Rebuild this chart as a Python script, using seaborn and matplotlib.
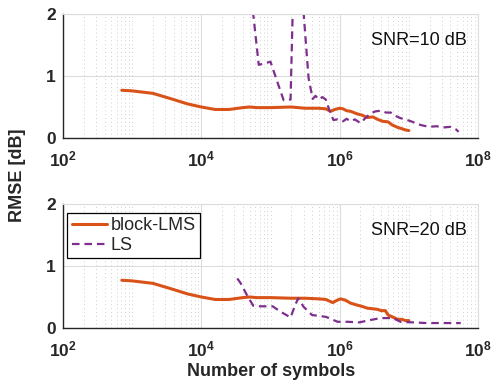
import numpy as np
import pandas as pd
import matplotlib
matplotlib.use("Agg")
import matplotlib.pyplot as plt
import seaborn as sns
from matplotlib.ticker import LogLocator, NullFormatter, FixedLocator

# ---- data: log10(number of symbols) and RMSE [dB] ----
lms_top_logn = [2.85, 3.0, 3.3, 3.6, 3.8, 4.0, 4.2, 4.4, 4.6, 4.7, 4.8, 5.0, 5.3,
                5.5, 5.7, 5.8, 5.87, 5.93, 6.0, 6.05, 6.1, 6.16, 6.25, 6.32, 6.4,
                6.48, 6.55, 6.62, 6.7, 6.76, 6.84, 6.9, 6.95, 7.0]
lms_top_rmse = [0.77, 0.76, 0.72, 0.62, 0.55, 0.50, 0.46, 0.46, 0.49, 0.50, 0.49, 0.49, 0.50,
                0.48, 0.48, 0.47, 0.43, 0.46, 0.48, 0.47, 0.44, 0.43, 0.39, 0.37, 0.33,
                0.34, 0.30, 0.27, 0.26, 0.21, 0.17, 0.15, 0.13, 0.12]

ls_top_logn = [4.68, 4.75, 4.83, 4.9, 5.0, 5.1, 5.19, 5.29, 5.32, 5.34,
               5.46, 5.48, 5.55, 5.61, 5.65, 5.7, 5.75, 5.8, 5.85, 5.91, 5.97, 6.05,
               6.1, 6.16, 6.22, 6.3, 6.38, 6.45, 6.52, 6.6, 6.67, 6.74, 6.8, 6.88,
               6.95, 7.03, 7.1, 7.17, 7.29, 7.4, 7.5, 7.6, 7.68, 7.72]
ls_top_rmse = [2.6, 2.0, 1.18, 1.2, 1.23, 0.9, 0.61, 0.62, 2.0, 2.6,
               2.6, 2.0, 0.97, 0.63, 0.68, 0.62, 0.66, 0.62, 0.45, 0.29, 0.30, 0.27,
               0.31, 0.27, 0.30, 0.24, 0.33, 0.40, 0.43, 0.44, 0.41, 0.41, 0.36, 0.32,
               0.30, 0.27, 0.24, 0.21, 0.18, 0.19, 0.17, 0.18, 0.14, 0.10]

lms_bot_logn = [2.85, 3.0, 3.3, 3.6, 3.8, 4.0, 4.2, 4.4, 4.6, 4.7, 4.8, 5.0, 5.3,
                5.5, 5.7, 5.8, 5.9, 5.95, 6.01, 6.08, 6.16, 6.25, 6.32, 6.4,
                6.48, 6.55, 6.6, 6.66, 6.7, 6.76, 6.84, 6.9, 6.95, 7.0]
lms_bot_rmse = [0.77, 0.76, 0.72, 0.62, 0.55, 0.50, 0.46, 0.46, 0.49, 0.50, 0.49, 0.49, 0.48,
                0.48, 0.47, 0.46, 0.41, 0.44, 0.47, 0.45, 0.40, 0.37, 0.35, 0.32,
                0.31, 0.30, 0.28, 0.28, 0.21, 0.18, 0.14, 0.14, 0.12, 0.12]

ls_bot_logn = [4.52, 4.57, 4.65, 4.75, 4.85, 5.03, 5.15, 5.29, 5.35, 5.4, 5.48, 5.6,
               5.8, 5.97, 6.12, 6.28, 6.45, 6.59, 6.77, 6.88, 7.07, 7.25, 7.5, 7.75]
ls_bot_rmse = [0.80, 0.72, 0.55, 0.36, 0.35, 0.35, 0.26, 0.17, 0.35, 0.48, 0.34, 0.21,
               0.18, 0.10, 0.10, 0.09, 0.13, 0.16, 0.16, 0.10, 0.09, 0.08, 0.08, 0.08]

snr_labels = ["SNR=10 dB", "SNR=20 dB"]
series_names = ["block-LMS", "LS"]
x_major = [1e2, 1e4, 1e6, 1e8]
x_major_labels = [r"$\mathbf{10^{2}}$", r"$\mathbf{10^{4}}$", r"$\mathbf{10^{6}}$", r"$\mathbf{10^{8}}$"]
y_ticks = [0, 1, 2]

# ---- style ----
sns.set_theme(style="white")
plt.rcParams["font.family"] = ["Liberation Sans", "DejaVu Sans"]
plt.rcParams["mathtext.fontset"] = "custom"
plt.rcParams["mathtext.rm"] = "Liberation Sans"
plt.rcParams["mathtext.bf"] = "Liberation Sans:bold"

ORANGE = "#D95319"
PURPLE = "#7E2F8E"
AX_DARK = "#262626"
GRID_MAJ = "#dcdcdc"
GRID_MIN = "#cfcfcf"

def make_frame(logn, rmse, name):
    return pd.DataFrame({"n": np.power(10.0, logn), "rmse": rmse, "method": name})

panels = [
    (make_frame(lms_top_logn, lms_top_rmse, series_names[0]),
     make_frame(ls_top_logn, ls_top_rmse, series_names[1])),
    (make_frame(lms_bot_logn, lms_bot_rmse, series_names[0]),
     make_frame(ls_bot_logn, ls_bot_rmse, series_names[1])),
]

fig = plt.figure(figsize=(4.93, 3.85), dpi=100)
W, H = 493, 385
ax_left, ax_right = 63, 478
rects = [(14, 138), (204, 328)]
axes = []
for top, bottom in rects:
    axes.append(fig.add_axes([ax_left / W, 1 - bottom / H,
                              (ax_right - ax_left) / W, (bottom - top) / H]))

for i, ax in enumerate(axes):
    df_lms, df_ls = panels[i]
    sns.lineplot(data=df_lms, x="n", y="rmse", ax=ax, color=ORANGE, lw=2.2,
                 sort=False, estimator=None, label=series_names[0], legend=False)
    sns.lineplot(data=df_ls, x="n", y="rmse", ax=ax, color=PURPLE, lw=1.6,
                 sort=False, estimator=None, label=series_names[1], legend=False,
                 dashes=False)
    ax.lines[-1].set_linestyle((0, (3.4, 2.2)))
    ax.set_xscale("log")
    ax.set_xlim(1e2, 1e8)
    ax.set_ylim(0, 2)
    ax.xaxis.set_major_locator(FixedLocator(x_major))
    ax.set_xticks(x_major, labels=x_major_labels)
    ax.xaxis.set_minor_locator(LogLocator(base=10, subs=np.arange(1, 10), numticks=50))
    ax.xaxis.set_minor_formatter(NullFormatter())
    ax.set_yticks(y_ticks, labels=[str(v) for v in y_ticks])
    ax.set_xlabel("")
    ax.set_ylabel("")

    ax.grid(True, which="major", axis="both", color=GRID_MAJ, lw=0.8, ls="-")
    ax.grid(True, which="minor", axis="x", color=GRID_MIN, lw=0.7, ls=(0, (1, 3)))
    ax.set_axisbelow(True)

    for s in ["left", "bottom"]:
        ax.spines[s].set_color(AX_DARK)
        ax.spines[s].set_linewidth(1.0)
    for s in ["top", "right"]:
        ax.spines[s].set_color(GRID_MAJ)
        ax.spines[s].set_linewidth(0.8)

    ax.tick_params(axis="both", which="both", direction="in", top=False, right=False,
                   colors=AX_DARK)
    ax.tick_params(axis="x", which="major", length=5, width=1.0, pad=8, labelsize=12.5)
    ax.tick_params(axis="x", which="minor", length=3, width=0.8)
    ax.tick_params(axis="y", which="major", length=5, width=1.0, pad=5, labelsize=12.5)
    for lab in ax.get_yticklabels():
        lab.set_fontweight("bold")
        lab.set_color(AX_DARK)
    for lab in ax.get_xticklabels():
        lab.set_color(AX_DARK)

    ax.text(0.973, 0.79, snr_labels[i], transform=ax.transAxes, ha="right", va="center",
            fontsize=13, color="#111111")

leg = axes[1].legend(handles=axes[1].lines[:2], labels=series_names, loc="upper left",
                     bbox_to_anchor=(0.01, 0.93), fontsize=13, frameon=True, fancybox=False,
                     edgecolor="black", framealpha=1.0, borderpad=0.25, labelspacing=0.15,
                     handlelength=1.95, handletextpad=0.2, borderaxespad=0.0)
leg.get_frame().set_linewidth(0.9)

fig.text(271 / W, 1 - 372 / H, "Number of symbols", ha="center", va="center",
         fontsize=13, fontweight="bold", color=AX_DARK)
fig.text(18 / W, 1 - 175 / H, "RMSE [dB]", ha="center", va="center", rotation=90,
         fontsize=13, fontweight="bold", color=AX_DARK)

fig.savefig("out.png", dpi=100)
